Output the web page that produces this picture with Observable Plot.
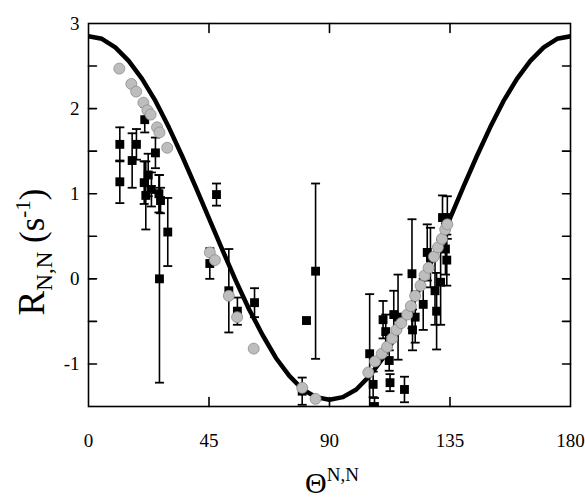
<!DOCTYPE html>
<html><head><meta charset="utf-8">
<script src="https://cdn.jsdelivr.net/npm/d3@7"></script>
<script src="https://cdn.jsdelivr.net/npm/@observablehq/plot@0.6"></script>
<style>body{margin:0;background:#fff} svg text{font-family:'Liberation Serif','Times New Roman',serif !important}</style>
</head><body><div id="chart"></div>
<script>
// theoretical curve
const curveTheta = [0,5,10,15,20,25,30,35,40,45,50,55,60,65,70,75,80,85,90,95,100,105,110,115,120,125,130,135,140,145,150,155,160,165,170,175,180];
const curveR = [2.85,2.82,2.72,2.56,2.35,2.09,1.78,1.44,1.08,0.71,0.34,-0.02,-0.36,-0.66,-0.93,-1.14,-1.30,-1.39,-1.42,-1.39,-1.30,-1.14,-0.93,-0.66,-0.36,-0.02,0.34,0.71,1.08,1.44,1.78,2.09,2.35,2.56,2.72,2.82,2.85];

// calculated values (grey circles)
const calcTheta = [11.5,16,17.8,20.5,22,23.2,25.6,26.5,29.4,45.3,47.2,52.4,55.5,61.7,79.8,84.8,104.5,107,109.5,111.5,113.4,115,116.8,119,120.4,122,124,125.5,127,129,130.5,132,133.2,134];
const calcR = [2.47,2.29,2.2,2.07,1.98,1.93,1.78,1.72,1.54,0.31,0.22,-0.2,-0.45,-0.82,-1.28,-1.41,-1.1,-0.97,-0.88,-0.8,-0.7,-0.6,-0.52,-0.42,-0.32,-0.2,-0.08,0.04,0.13,0.26,0.37,0.47,0.58,0.64];

// experimental values (black squares) with errors
const expTheta = [11.7,11.7,16.3,17.9,21.0,20.8,21.4,22.3,23.5,25.0,26.3,26.9,26.5,29.6,45.3,47.8,52.4,55.6,62.0,79.8,81.4,84.8,105.0,106.3,106.8,110.0,111.0,112.3,112.6,114.0,115.6,118.0,120.8,121.0,122.0,125.0,126.5,127.7,129.4,130.0,131.5,132.2,133.3,133.8,134.0];
const expR = [1.58,1.14,1.39,1.58,1.87,1.13,0.98,1.22,1.05,1.48,1.00,0.92,0.00,0.55,0.18,0.99,-0.14,-0.38,-0.28,-1.32,-0.49,0.09,-0.88,-1.24,-1.50,-0.48,-0.62,-0.96,-1.22,-0.42,-0.45,-1.30,0.06,-0.60,-0.45,-0.30,0.31,0.25,-0.14,-0.38,-0.04,0.72,0.35,0.22,0.72];
const expErr = [0.20,0.25,0.32,0.18,0.15,0.25,0.40,0.25,0.20,0.18,0.22,0.15,1.22,0.40,0.18,0.13,0.49,0.16,0.17,0.16,0.03,1.03,0.70,0.15,0.10,0.22,0.20,0.12,0.10,0.28,0.50,0.15,0.64,0.24,0.30,0.30,0.33,0.35,0.40,0.45,0.50,0.26,0.30,0.30,0.25];

const xTickLabels = [0,45,90,135,180];
const xInnerTicks = [45,90,135];
const yTickLabels = [-1,0,1,2,3];
const yInnerTicks = [-1,-0.5,0,0.5,1,1.5,2,2.5];

const curve = curveTheta.map((t,i)=>({t, r: curveR[i]}));
const calc = calcTheta.map((t,i)=>({t, r: calcR[i]}));
const exp = expTheta.map((t,i)=>({t, r: expR[i], e: expErr[i]}));

const capSymbol = {draw(ctx){ ctx.moveTo(-4.5,0); ctx.lineTo(4.5,0); }};
const tickShape = {draw(ctx, l){ ctx.moveTo(0,0); ctx.lineTo(0,-l); }};
const serif = "'Liberation Serif', 'Times New Roman', serif";

const plot = Plot.plot({
  width: 585, height: 500,
  marginLeft: 88, marginRight: 15, marginTop: 23, marginBottom: 94,
  x: {domain: [0,180]},
  y: {domain: [-1.5,3]},
  style: `font-family: ${serif}; font-size: 19px; color: black; background: white;`,
  marks: [
    Plot.line(curve, {x: "t", y: "r", stroke: "black", strokeWidth: 4.5, clip: true}),
    Plot.ruleX(exp, {x: "t", y1: d => d.r - d.e, y2: d => d.r + d.e, stroke: "black", strokeWidth: 1.6, clip: true}),
    Plot.dot(exp, {x: "t", y: d => d.r + d.e, symbol: capSymbol, stroke: "black", strokeWidth: 1.8, clip: true}),
    Plot.dot(exp, {x: "t", y: d => d.r - d.e, symbol: capSymbol, stroke: "black", strokeWidth: 1.8, clip: true}),
    Plot.dot(exp, {x: "t", y: "r", symbol: "square", r: 5, fill: "black", clip: true}),
    Plot.dot(calc, {x: "t", y: "r", r: 5.5, fill: "#bdbdbd", stroke: "#8c8c8c", strokeWidth: 0.8}),
    Plot.frame({stroke: "black", strokeWidth: 1.6}),
    Plot.vector(xInnerTicks, {x: d => d, frameAnchor: "bottom", length: 9, rotate: 0, anchor: "start", shape: tickShape, stroke: "black", strokeWidth: 1.6}),
    Plot.vector(xInnerTicks, {x: d => d, frameAnchor: "top", length: 9, rotate: 180, anchor: "start", shape: tickShape, stroke: "black", strokeWidth: 1.6}),
    Plot.vector(yInnerTicks, {y: d => d, frameAnchor: "left", length: 8, rotate: 90, anchor: "start", shape: tickShape, stroke: "black", strokeWidth: 1.6}),
    Plot.vector(yInnerTicks, {y: d => d, frameAnchor: "right", length: 8, rotate: -90, anchor: "start", shape: tickShape, stroke: "black", strokeWidth: 1.6}),
    Plot.axisX({ticks: xTickLabels, tickSize: 0, tickPadding: 27, label: null, tickFormat: d => String(d), fontFamily: serif, fontSize: 19}),
    Plot.axisY({ticks: yTickLabels, tickSize: 0, tickPadding: 9, label: null, tickFormat: d => String(d), fontFamily: serif, fontSize: 19})
  ]
});
document.getElementById("chart").appendChild(plot);

const svg = d3.select(plot);
// y-axis title
const yt = svg.append("text")
  .attr("transform", "translate(44,252) rotate(-90)")
  .attr("text-anchor", "middle")
  .attr("font-family", serif)
  .attr("fill", "black");
yt.append("tspan").attr("font-size", 37).text("R");
yt.append("tspan").attr("font-size", 23).attr("dy", 8).text("N,N");
yt.append("tspan").attr("font-size", 35).attr("dy", -8).text(" (s");
yt.append("tspan").attr("font-size", 21).attr("dy", -14).text("-1");
yt.append("tspan").attr("font-size", 35).attr("dy", 14).text(")");
// x-axis title
const xt = svg.append("text")
  .attr("x", 332).attr("y", 493)
  .attr("text-anchor", "middle")
  .attr("font-family", serif)
  .attr("fill", "black");
xt.append("tspan").attr("font-size", 30).text("Θ");
xt.append("tspan").attr("font-size", 19).attr("dy", -12).text("N,N");
</script>
</body></html>
